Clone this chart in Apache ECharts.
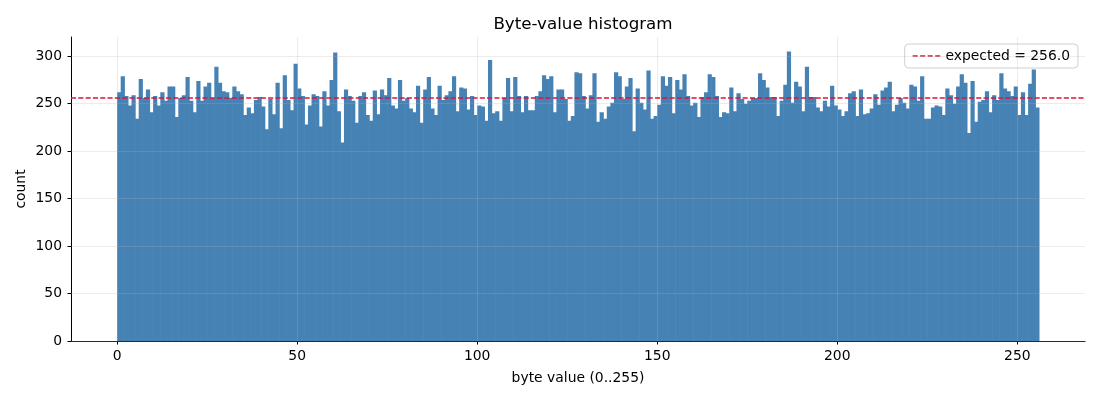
<!DOCTYPE html>
<html>
<head>
<meta charset="utf-8">
<title>Byte-value histogram</title>
<script src="https://cdn.jsdelivr.net/npm/echarts@6/dist/echarts.min.js"></script>
<style>
  html, body { margin: 0; padding: 0; background: #fff; }
  #chart { width: 1100px; height: 400px; }
</style>
</head>
<body>
<div id="chart"></div>
<script>
// counts per byte value 0..255
const counts = [
  262, 279, 258, 248, 259, 234, 276, 256, 265, 241, 258, 248, 262, 253, 268, 268,
  236, 256, 259, 278, 253, 241, 274, 253, 268, 272, 256, 289, 272, 263, 262, 256,
  268, 263, 260, 238, 246, 240, 254, 257, 247, 223, 255, 239, 272, 224, 280, 254,
  243, 292, 266, 258, 228, 248, 260, 258, 226, 263, 248, 275, 304, 242, 209, 265,
  258, 253, 230, 258, 262, 238, 232, 264, 239, 265, 259, 277, 248, 245, 275, 253,
  256, 245, 241, 269, 230, 265, 278, 245, 238, 269, 254, 259, 263, 279, 242, 267,
  266, 244, 258, 238, 248, 247, 232, 296, 240, 242, 232, 256, 277, 242, 278, 258,
  241, 258, 243, 243, 258, 263, 280, 276, 279, 241, 265, 265, 255, 232, 237, 283,
  282, 258, 245, 259, 282, 231, 241, 234, 247, 251, 283, 279, 255, 268, 277, 221,
  266, 251, 244, 285, 234, 237, 249, 279, 269, 278, 240, 275, 265, 281, 258, 248,
  251, 236, 257, 262, 281, 278, 258, 236, 241, 240, 267, 242, 261, 255, 250, 253,
  256, 256, 282, 275, 267, 257, 257, 237, 253, 270, 305, 251, 273, 268, 242, 289,
  257, 257, 246, 242, 253, 247, 269, 248, 244, 237, 242, 261, 263, 237, 265, 239,
  240, 245, 260, 249, 264, 267, 273, 242, 249, 256, 251, 245, 270, 268, 253, 279,
  234, 234, 246, 248, 247, 238, 266, 259, 250, 268, 281, 272, 219, 274, 231, 252,
  254, 263, 241, 259, 254, 282, 266, 263, 258, 268, 238, 262, 238, 271, 286, 246
];
const expected = 256.0;
const xTicks = [0, 50, 100, 150, 200, 250];
const yTicks = [0, 50, 100, 150, 200, 250, 300];

// axis limits like matplotlib's 5% margins
const xMin = -12.8, xMax = 268.8;
const yMax = 320.25;

const barData = counts.map((c, i) => [i, i + 1, c]);

const gridColor = 'rgba(176,176,176,0.3)';
const font = 'DejaVu Sans';
const red = '#DC143C';

const gridLines = xTicks.map(v => ({ xAxis: v }))
  .concat(yTicks.map(v => ({ yAxis: v })));

// dashed legend sample, drawn as little filled dashes
const dashIcon = 'path://M0,0h5v1.4h-5z M7.5,0h5v1.4h-5z M15,0h5v1.4h-5z M22.5,0h5v1.4h-5z';

const chart = echarts.init(document.getElementById('chart'));
chart.setOption({
  animation: false,
  textStyle: { fontFamily: font, color: '#000' },
  title: {
    text: 'Byte-value histogram',
    left: 578,
    top: 11,
    textAlign: 'center',
    textStyle: { fontFamily: font, fontSize: 16.7, fontWeight: 'normal', color: '#000' }
  },
  legend: {
    right: 22,
    top: 44,
    orient: 'vertical',
    itemWidth: 28,
    itemHeight: 1.4,
    itemGap: 4,
    padding: [5, 8, 5, 8],
    borderColor: '#d0d0d0',
    borderWidth: 1,
    borderRadius: 4,
    backgroundColor: 'rgba(255,255,255,0.8)',
    textStyle: { fontFamily: font, fontSize: 13.9, color: '#000', padding: [6, 0, 6, 0] },
    data: [{ name: 'expected = 256.0', icon: dashIcon }]
  },
  grid: { left: 71, right: 15, top: 37, bottom: 59 },
  xAxis: {
    type: 'value',
    min: xMin,
    max: xMax,
    name: 'byte value (0..255)',
    nameLocation: 'middle',
    nameGap: 30,
    nameMoveOverlap: false,
    nameTextStyle: { fontFamily: font, fontSize: 13.9, color: '#000' },
    axisLine: { onZero: false, lineStyle: { color: '#000', width: 1 } },
    axisTick: { length: 3.5, customValues: xTicks, lineStyle: { color: '#000' } },
    axisLabel: { customValues: xTicks, margin: 8, fontFamily: font, fontSize: 13.9, color: '#000' },
    splitLine: { show: false }
  },
  yAxis: {
    type: 'value',
    min: 0,
    max: yMax,
    name: 'count',
    nameLocation: 'middle',
    nameGap: 43,
    nameMoveOverlap: false,
    nameTextStyle: { fontFamily: font, fontSize: 13.9, color: '#000' },
    axisLine: { show: true, onZero: false, lineStyle: { color: '#000', width: 1 } },
    axisTick: { show: true, length: 3.5, customValues: yTicks, lineStyle: { color: '#000' } },
    axisLabel: { customValues: yTicks, margin: 9, fontFamily: font, fontSize: 13.9, color: '#000' },
    splitLine: { show: false }
  },
  series: [
    {
      type: 'custom',
      name: 'counts',
      data: barData,
      encode: { x: [0, 1], y: 2 },
      renderItem: function (params, api) {
        const p0 = api.coord([api.value(0), api.value(2)]);
        const p1 = api.coord([api.value(1), 0]);
        return {
          type: 'rect',
          shape: { x: p0[0], y: p0[1], width: p1[0] - p0[0] + 0.6, height: p1[1] - p0[1] },
          style: { fill: '#4682B4' }
        };
      }
    },
    {
      type: 'line',
      name: 'expected = 256.0',
      data: [[xMin, expected], [xMax, expected]],
      symbol: 'none',
      z: 5,
      lineStyle: { color: red, width: 1.4, type: [5.1, 2.2] },
      itemStyle: { color: red },
      markLine: {
        silent: true,
        symbol: 'none',
        label: { show: false },
        lineStyle: { color: gridColor, width: 0.8, type: 'solid' },
        data: gridLines
      }
    }
  ]
});
</script>
</body>
</html>
